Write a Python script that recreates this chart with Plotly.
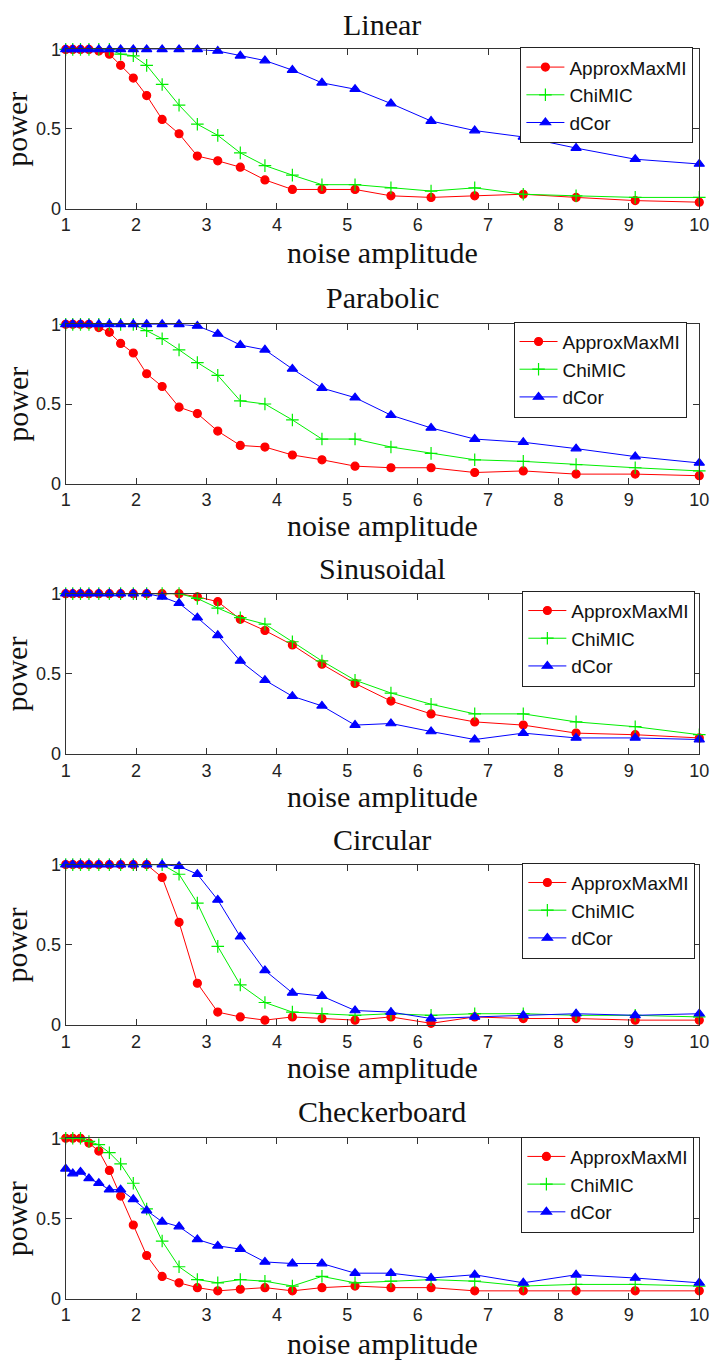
import plotly.graph_objects as go

# ---------------- data ----------------
noise_amplitude = [1.00, 1.10, 1.21, 1.33, 1.47, 1.62, 1.78, 1.96, 2.15, 2.37, 2.61, 2.87, 3.16,
                   3.48, 3.83, 4.22, 4.64, 5.11, 5.62, 6.19, 6.81, 7.50, 8.25, 9.09, 10.00]
x_ticks = [1, 2, 3, 4, 5, 6, 7, 8, 9, 10]
y_ticks = [0, 0.5, 1]
y_tick_labels = ["0", "0.5", "1"]

panel_titles = ["Linear", "Parabolic", "Sinusoidal", "Circular", "Checkerboard"]
methods = ["ApproxMaxMI", "ChiMIC", "dCor"]

linear_approxmaxmi = [1, 1, 1, 1, 0.99, 0.97, 0.90, 0.82, 0.71, 0.56, 0.47, 0.33, 0.30, 0.26, 0.18,
                      0.12, 0.12, 0.12, 0.08, 0.07, 0.08, 0.09, 0.07, 0.05, 0.04]
linear_chimic = [1, 1, 1, 1, 1, 1, 0.97, 0.96, 0.90, 0.78, 0.65, 0.53, 0.46, 0.35, 0.27,
                 0.21, 0.15, 0.15, 0.13, 0.11, 0.13, 0.09, 0.08, 0.07, 0.07]
linear_dcor = [1, 1, 1, 1, 1, 1, 1, 1, 1, 1, 1, 1, 0.99, 0.96, 0.93,
               0.87, 0.79, 0.75, 0.66, 0.55, 0.49, 0.45, 0.38, 0.31, 0.28]

parabolic_approxmaxmi = [1, 1, 1, 1, 0.98, 0.95, 0.88, 0.82, 0.69, 0.61, 0.48, 0.44, 0.33, 0.24, 0.23,
                         0.18, 0.15, 0.11, 0.10, 0.10, 0.07, 0.08, 0.06, 0.06, 0.05]
parabolic_chimic = [1, 1, 1, 1, 1, 1, 1, 1, 0.96, 0.91, 0.84, 0.76, 0.68, 0.52, 0.50,
                    0.40, 0.28, 0.28, 0.23, 0.19, 0.15, 0.14, 0.12, 0.10, 0.08]
parabolic_dcor = [1, 1, 1, 1, 1, 1, 1, 1, 1, 1, 1, 0.99, 0.94, 0.87, 0.84,
                  0.72, 0.60, 0.54, 0.43, 0.35, 0.28, 0.26, 0.22, 0.17, 0.13]

sinusoidal_approxmaxmi = [1, 1, 1, 1, 1, 1, 1, 1, 1, 1, 1, 0.98, 0.95, 0.84, 0.77,
                          0.68, 0.56, 0.44, 0.33, 0.25, 0.20, 0.18, 0.13, 0.12, 0.10]
sinusoidal_chimic = [1, 1, 1, 1, 1, 1, 1, 1, 1, 1, 1, 0.97, 0.91, 0.85, 0.81,
                     0.70, 0.58, 0.46, 0.38, 0.31, 0.25, 0.25, 0.20, 0.17, 0.12]
sinusoidal_dcor = [1, 1, 1, 1, 1, 1, 1, 1, 1, 0.98, 0.94, 0.85, 0.74, 0.58, 0.46,
                   0.36, 0.30, 0.18, 0.19, 0.14, 0.09, 0.13, 0.10, 0.10, 0.09]

circular_approxmaxmi = [1, 1, 1, 1, 1, 1, 1, 1, 1, 0.92, 0.64, 0.26, 0.08, 0.05, 0.03,
                        0.05, 0.04, 0.03, 0.05, 0.01, 0.05, 0.04, 0.04, 0.03, 0.03]
circular_chimic = [1, 1, 1, 1, 1, 1, 1, 1, 1, 1, 0.94, 0.76, 0.49, 0.25, 0.14,
                   0.08, 0.07, 0.06, 0.07, 0.06, 0.07, 0.07, 0.06, 0.06, 0.05]
circular_dcor = [1, 1, 1, 1, 1, 1, 1, 1, 1, 1, 0.99, 0.94, 0.78, 0.55, 0.34,
                 0.20, 0.18, 0.09, 0.08, 0.04, 0.05, 0.06, 0.07, 0.06, 0.07]

checkerboard_approxmaxmi = [1, 1, 1, 0.97, 0.92, 0.80, 0.64, 0.46, 0.27, 0.14, 0.10, 0.07, 0.05, 0.06, 0.07,
                            0.05, 0.07, 0.08, 0.07, 0.07, 0.05, 0.05, 0.05, 0.05, 0.05]
checkerboard_chimic = [1, 1, 1, 0.98, 0.96, 0.91, 0.84, 0.72, 0.56, 0.36, 0.20, 0.12, 0.10, 0.12, 0.11,
                       0.08, 0.14, 0.10, 0.11, 0.12, 0.11, 0.08, 0.09, 0.09, 0.08]
checkerboard_dcor = [0.81, 0.78, 0.79, 0.75, 0.72, 0.68, 0.68, 0.62, 0.55, 0.48, 0.45, 0.37, 0.33, 0.31, 0.23,
                     0.22, 0.22, 0.16, 0.16, 0.13, 0.15, 0.10, 0.15, 0.13, 0.10]

panel_series = [
    [linear_approxmaxmi, linear_chimic, linear_dcor],
    [parabolic_approxmaxmi, parabolic_chimic, parabolic_dcor],
    [sinusoidal_approxmaxmi, sinusoidal_chimic, sinusoidal_dcor],
    [circular_approxmaxmi, circular_chimic, circular_dcor],
    [checkerboard_approxmaxmi, checkerboard_chimic, checkerboard_dcor],
]

# ---------------- styling ----------------
W, H = 722, 1368
colors = ["#ff0000", "#00ee00", "#0000ff"]
symbols = ["circle", "cross-thin", "triangle-up"]
marker_sizes = [8, 9, 9]

x_left, x_right = 62, 709
panel_px = [(40, 201.5), (319, 480.7), (592.3, 755), (867.3, 1030), (1145, 1308)]
title_y = [15, 292, 567, 842, 1118]
xlabel_y = [246, 523, 798, 1073, 1353]
legend_box = [(703, 86.5), (696, 365), (705, 638), (705, 914), (704, 1192)]  # right edge, vertical centre

serif = "Liberation Serif, Times New Roman, serif"
sans = "Liberation Sans, Arial, sans-serif"

fig = go.Figure()
annotations = []
layout = {}

for p, (series, title) in enumerate(zip(panel_series, panel_titles)):
    sfx = "" if p == 0 else str(p + 1)
    xa, ya = "x" + sfx, "y" + sfx
    leg = "legend" + sfx
    for m, (vals, name) in enumerate(zip(series, methods)):
        fig.add_trace(go.Scatter(
            x=noise_amplitude, y=vals, name=name, mode="lines+markers",
            xaxis=xa, yaxis=ya, legend=leg, legendgroup=f"{leg}_{m}",
            cliponaxis=False,
            line=dict(color=colors[m], width=1),
            marker=dict(symbol=symbols[m], size=marker_sizes[m], color=colors[m],
                        line=dict(color=colors[m], width=1.2)),
        ))
    top, bot = panel_px[p]
    dom_y = [1 - bot / H, 1 - top / H]
    layout["xaxis" + sfx] = dict(
        domain=[x_left / W, x_right / W], anchor=ya, range=[1, 10],
        tickvals=x_ticks, ticks="inside", ticklen=6, tickcolor="#333",
        showline=True, linecolor="#333", linewidth=1, mirror="ticks",
        showgrid=False, zeroline=False,
        tickfont=dict(family=sans, size=18, color="#222"),
    )
    layout["yaxis" + sfx] = dict(
        domain=dom_y, anchor=xa, range=[0, 1],
        tickvals=y_ticks, ticktext=y_tick_labels, ticks="inside", ticklen=6, tickcolor="#333",
        showline=True, linecolor="#333", linewidth=1, mirror="ticks",
        showgrid=False, zeroline=False,
        tickfont=dict(family=sans, size=18, color="#222"),
    )
    lx, ly = legend_box[p]
    layout[leg] = dict(
        x=lx / W, y=1 - ly / H, xanchor="right", yanchor="middle",
        bgcolor="white", bordercolor="#222", borderwidth=1,
        font=dict(family=sans, size=19, color="#111"),
        itemwidth=38, tracegroupgap=0,
    )
    annotations.append(dict(
        text=title, xref="paper", yref="paper", x=((x_left + x_right) / 2) / W, y=1 - title_y[p] / H,
        xanchor="center", yanchor="middle", showarrow=False,
        font=dict(family=serif, size=30, color="#111"),
    ))
    annotations.append(dict(
        text="noise amplitude", xref="paper", yref="paper", x=((x_left + x_right) / 2) / W,
        y=1 - xlabel_y[p] / H, xanchor="center", yanchor="middle", showarrow=False,
        font=dict(family=serif, size=30, color="#111"),
    ))
    annotations.append(dict(
        text="power", xref="paper", yref="paper", x=12 / W, y=1 - ((top + bot) / 2) / H,
        xanchor="center", yanchor="middle", showarrow=False, textangle=-90,
        font=dict(family=serif, size=30, color="#111"),
    ))

fig.update_layout(
    width=W, height=H, margin=dict(l=0, r=0, t=0, b=0),
    paper_bgcolor="white", plot_bgcolor="white",
    annotations=annotations, **layout,
)

fig.write_html(
    "out.html",
    config={"displayModeBar": False},
    post_script="document.body.style.margin='0';document.body.style.overflow='hidden';",
)
